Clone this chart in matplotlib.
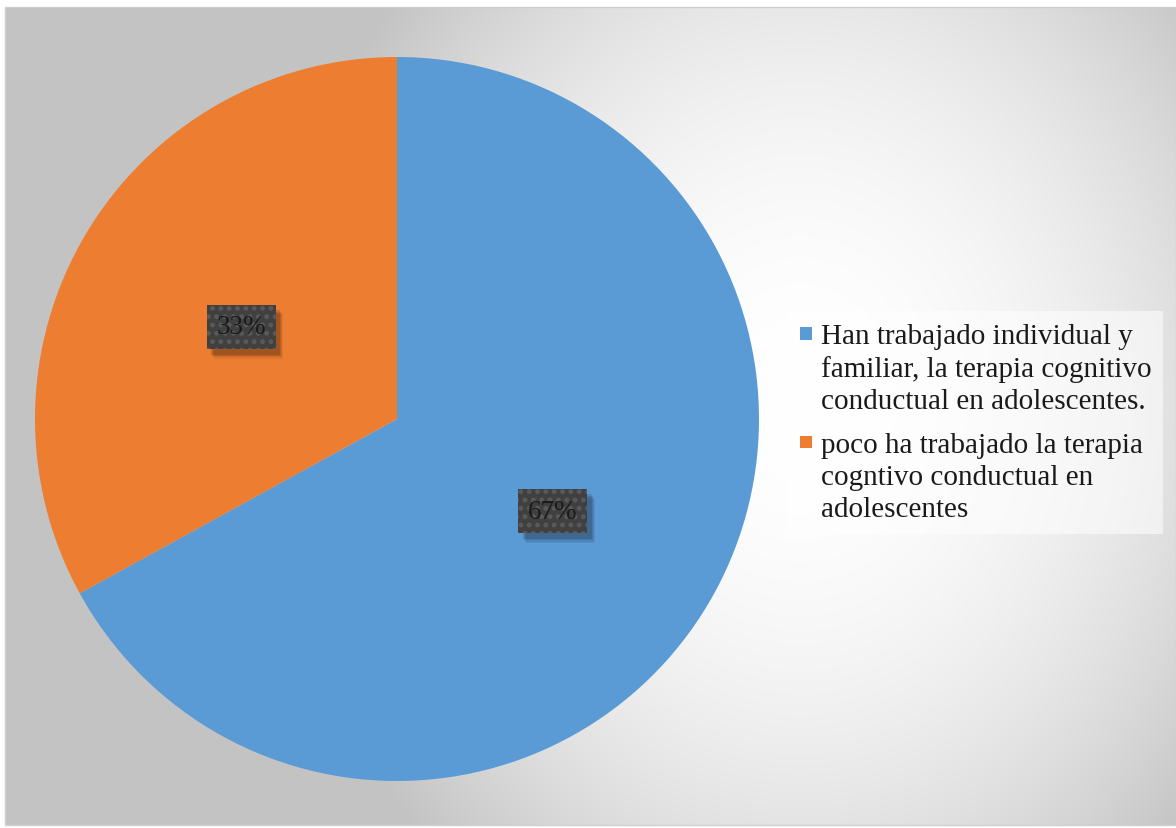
import numpy as np
import matplotlib
matplotlib.use("Agg")
import matplotlib.pyplot as plt
import matplotlib.patheffects as pe
from matplotlib.patches import Rectangle
from matplotlib.legend_handler import HandlerBase

# ---- data ----
labels = [
    "Han trabajado individual y\nfamiliar, la terapia cognitivo\nconductual en adolescentes.",
    "poco ha trabajado la terapia\ncogntivo conductual en\nadolescentes",
]
values = [67, 33]
colors = ["#5B9BD5", "#ED7D31"]

W, H = 1176, 829
plt.rcParams["font.family"] = ["Liberation Serif", "DejaVu Serif"]
plt.rcParams["hatch.linewidth"] = 2.2

LEG_FS = 21
LINESP = 1.3

fig = plt.figure(figsize=(W / 100, H / 100), dpi=100)
fig.patch.set_facecolor("white")

# background axes in pixel coords (y down)
bg = fig.add_axes([0, 0, 1, 1])
bg.set_xlim(0, W)
bg.set_ylim(H, 0)
bg.axis("off")
x0, y0, x1, y1 = 5, 8, 1176, 826
xx, yy = np.meshgrid(np.arange(x0, x1), np.arange(y0, y1))
d2 = ((xx - 800) * 1.2) ** 2 + (yy - 400) ** 2
val = 255 - np.minimum(60, 1.5e-4 * d2)
img = np.dstack([val, val, val]) / 255.0
bg.imshow(img, extent=(x0, x1, y1, y0), interpolation="bilinear", zorder=0)
bg.add_patch(Rectangle((x0, y0), x1 - x0, y1 - y0, fill=False, edgecolor="#d0d0d0", lw=1.0, zorder=1))

# pie axes with pixel coords (y up)
ax = fig.add_axes([0, 0, 1, 1])
ax.patch.set_alpha(0)

wedges, texts, autotexts = ax.pie(
    values, colors=colors, startangle=90, counterclock=False,
    center=(397, H - 420), radius=362, frame=True,
    autopct=lambda p: f"{p:.0f}%", pctdistance=0.5,
    wedgeprops=dict(linewidth=0),
    textprops=dict(fontsize=19.5, color="#1a1a1a"),
)
ax.set_xlim(0, W)
ax.set_ylim(0, H)
ax.set_aspect("auto")
ax.axis("off")


class NoHatchShadow(pe.SimplePatchShadow):
    def draw_path(self, renderer, gc, tpath, affine, rgbFace):
        gc0 = renderer.new_gc()
        gc0.copy_properties(gc)
        gc0.set_hatch(None)
        super().draw_path(renderer, gc0, tpath, affine, rgbFace)
        gc0.restore()


for t in autotexts:
    t.set_bbox(dict(boxstyle="square,pad=0.36", facecolor="#404040", edgecolor="#5a5a5a",
                    hatch="..", linewidth=0.0))
    effects = []
    for k, a in [(7, 0.06), (6, 0.08), (5, 0.1), (4, 0.12)]:
        effects.append(NoHatchShadow(offset=(k * 0.8, -k), shadow_rgbFace="black", alpha=a))
    effects.append(pe.Normal())
    t.get_bbox_patch().set_path_effects(effects)


class TopSquare(HandlerBase):
    def create_artists(self, legend, orig_handle, xdescent, ydescent, width, height, fontsize, trans):
        sq = 0.43 * fontsize
        # place square beside the first text line
        ybase = 0.9 * LINESP * fontsize
        r = Rectangle((-xdescent + width - sq, ybase + 0.16 * fontsize), sq, sq,
                      facecolor=orig_handle.get_facecolor(), edgecolor="none", transform=trans)
        return [r]


leg = ax.legend(
    wedges, labels, loc="upper left",
    bbox_to_anchor=(786 / W, 1 - 312 / H), bbox_transform=fig.transFigure,
    fontsize=LEG_FS, frameon=True, fancybox=False, handlelength=0.5, handleheight=0.7,
    handletextpad=0.3, labelspacing=0.62, borderpad=0.4, borderaxespad=0,
    handler_map={type(wedges[0]): TopSquare()},
)
fr = leg.get_frame()
fr.set_facecolor("white")
fr.set_alpha(0.55)
fr.set_edgecolor("none")
for t in leg.get_texts():
    t.set_color("#1a1a1a")
    t.set_linespacing(LINESP)

fig.savefig("out.png", dpi=100)
